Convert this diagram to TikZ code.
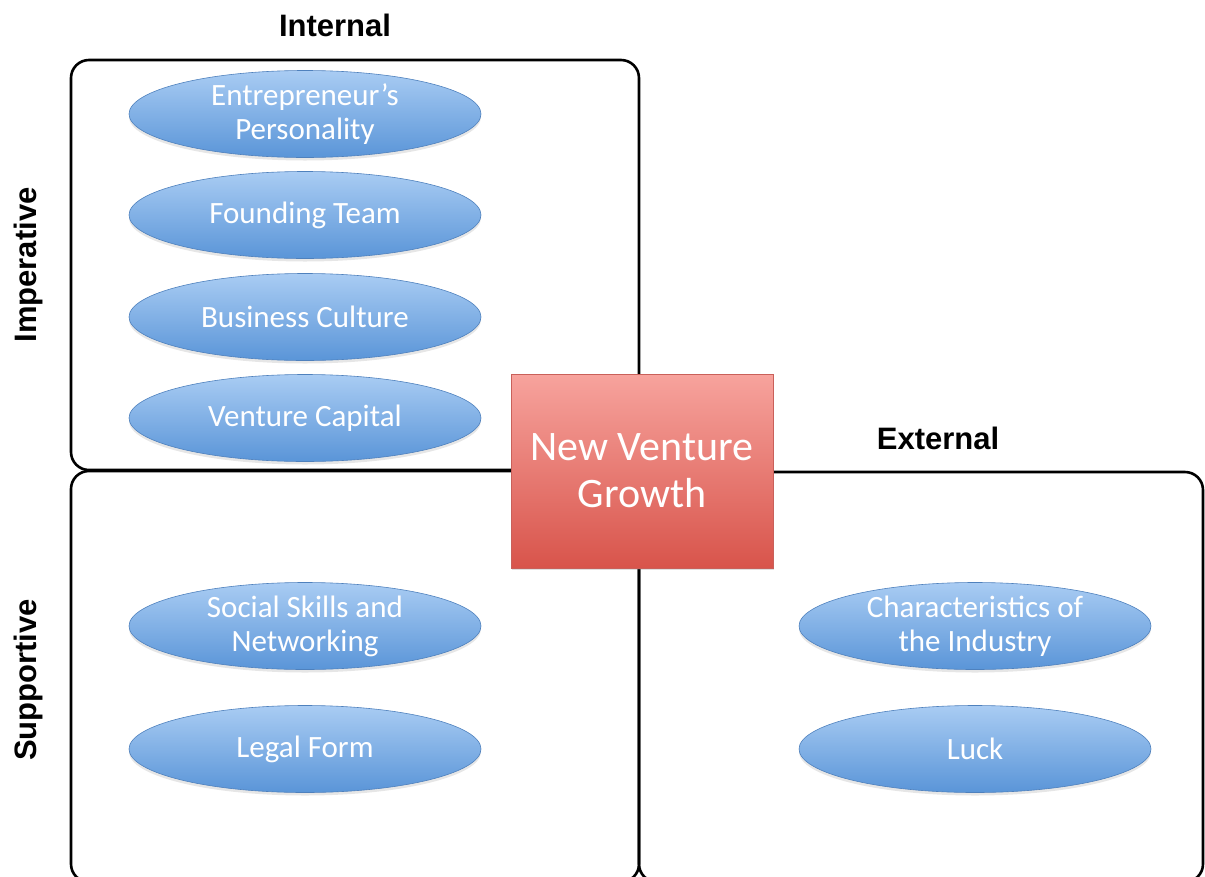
\documentclass[tikz,border=0pt]{standalone}
\usepackage{fontspec}
\setmainfont{Carlito}
\newfontfamily\labelfont{Liberation Sans}
\usetikzlibrary{shapes.geometric,shadows}

\definecolor{ellTop}{HTML}{A9CCF3}
\definecolor{ellBot}{HTML}{5A95D8}
\definecolor{ellEdge}{HTML}{4F81BD}
\definecolor{boxTop}{HTML}{F7A39D}
\definecolor{boxBot}{HTML}{D8544B}
\definecolor{boxEdge}{HTML}{C9605A}

\tikzset{
  frame/.style={draw=black, line width=2.6pt, rounded corners=18pt},
  factor/.style={ellipse, minimum width=352pt, minimum height=87pt, inner sep=0pt,
    top color=ellTop, bottom color=ellBot, draw=ellEdge, line width=0.6pt,
    drop shadow={opacity=0.2, shadow xshift=0pt, shadow yshift=-3pt},
    text=white, align=center, font=\fontsize{31}{34}\selectfont},
  core/.style={rectangle, minimum width=262pt, minimum height=194pt, inner sep=0pt,
    top color=boxTop, bottom color=boxBot, draw=boxEdge, line width=0.6pt,
    drop shadow={opacity=0.25, shadow xshift=1pt, shadow yshift=-2pt},
    text=white, align=center, font=\fontsize{42}{47}\selectfont},
  axislabel/.style={font=\labelfont\bfseries\fontsize{31}{36}\selectfont, text=black, inner sep=0pt}
}

\begin{document}
\begin{tikzpicture}[x=1pt, y=-1pt]
  \useasboundingbox (0,0) rectangle (1205,876);
  \begin{scope}
    \clip (0,0) rectangle (1205,876);
    % quadrant frames
    \draw[frame] (71,60) rectangle (639,470);
    \draw[frame] (71,471) rectangle (639,882);
    \draw[frame] (639,472) rectangle (1203,882);
  \end{scope}

  % axis labels
  \node[axislabel] (internal) at (335,25) {Internal};
  \node[axislabel] (external) at (938,438) {External};
  \node[axislabel, rotate=90] (imperative) at (28,265) {Imperative};
  \node[axislabel, rotate=90] (supportive) at (28,680) {Supportive};

  % internal / imperative factors
  \node[factor] (personality) at (305,114) {Entrepreneur’s\\Personality};
  \node[factor] (team) at (305,215) {Founding Team};
  \node[factor] (culture) at (305,317) {Business Culture};
  \node[factor] (capital) at (305,418) {Venture Capital};

  % internal / supportive factors
  \node[factor] (social) at (305,626) {Social Skills and\\Networking};
  \node[factor] (legal) at (305,749) {Legal Form};

  % external factors
  \node[factor] (industry) at (975,626) {Characteristics of\\the Industry};
  \node[factor] (luck) at (975,749) {Luck};

  % centre
  \node[core] (growth) at (642,471) {New Venture\\Growth};
\end{tikzpicture}
\end{document}
